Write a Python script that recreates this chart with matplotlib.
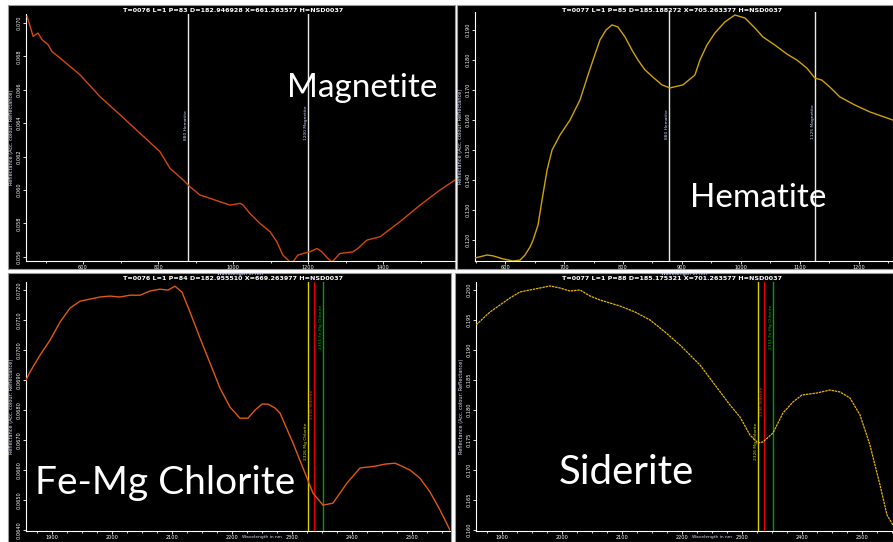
import matplotlib
matplotlib.use("Agg")
import matplotlib.pyplot as plt
from matplotlib.patches import Rectangle
from matplotlib.ticker import MultipleLocator, FormatStrFormatter
import matplotlib.transforms as mtransforms

# ---------------- data ----------------
mag_wl = [451, 467, 480, 491, 507, 517, 539, 592, 645, 699, 752, 805, 832, 867, 885, 912,
          939, 965, 992, 1019, 1027, 1045, 1072, 1099, 1117, 1133, 1152, 1160, 1173, 1187,
          1205, 1224, 1237, 1253, 1264, 1277, 1285, 1320, 1333, 1347, 1357, 1392, 1445,
          1499, 1552, 1592]
mag_r = [0.0704, 0.0692, 0.0694, 0.0690, 0.0687, 0.0683, 0.0679, 0.0669, 0.0656, 0.0645,
         0.0634, 0.0623, 0.0613, 0.0606, 0.0602, 0.0597, 0.0595, 0.0593, 0.0591, 0.0592,
         0.0591, 0.0586, 0.0580, 0.0575, 0.0569, 0.0561, 0.0557, 0.0557, 0.0561, 0.0562,
         0.0563, 0.0565, 0.0563, 0.0559, 0.0557, 0.0560, 0.0562, 0.0563, 0.0565, 0.0568,
         0.0570, 0.0572, 0.0581, 0.0591, 0.0600, 0.0606]

hem_wl = [549, 569.5, 579.7, 596.6, 613.6, 625.4, 633.9, 642.4, 647.5, 655.9, 662.7, 671.2,
          679.7, 693.2, 710.2, 727.1, 740.7, 749.2, 761.0, 771.2, 781.4, 791.5, 803.4, 815.3,
          825.4, 837.3, 850.8, 866.1, 879.7, 901.7, 922.0, 930.5, 942.4, 955.9, 972.9, 989.8,
          1006.8, 1023.7, 1037.3, 1057.6, 1078.0, 1094.9, 1111.9, 1125.4, 1137.3, 1150.8,
          1167.8, 1193.2, 1218.6, 1257.6]
hem_r = [0.1140, 0.1150, 0.1147, 0.1137, 0.1130, 0.1133, 0.1150, 0.1177, 0.1200, 0.1250,
         0.1333, 0.1433, 0.1500, 0.1550, 0.1600, 0.1667, 0.1750, 0.1800, 0.1867, 0.1900,
         0.1917, 0.1910, 0.1877, 0.1833, 0.1800, 0.1767, 0.1743, 0.1717, 0.1707, 0.1717,
         0.1750, 0.1800, 0.1850, 0.1890, 0.1927, 0.1950, 0.1940, 0.1907, 0.1877, 0.1850,
         0.1820, 0.1800, 0.1773, 0.1740, 0.1733, 0.1710, 0.1677, 0.1650, 0.1627, 0.1600]

chl_wl = [1856.7, 1863.3, 1880.0, 1896.7, 1913.3, 1930.0, 1946.7, 1963.3, 1980.0, 1996.7,
          2013.3, 2030.0, 2046.7, 2063.3, 2080.0, 2093.3, 2105.0, 2116.7, 2130.0, 2146.7,
          2163.3, 2180.0, 2196.7, 2213.3, 2226.7, 2238.3, 2250.0, 2260.0, 2271.7, 2280.0,
          2301.7, 2321.7, 2335.0, 2351.7, 2368.3, 2391.7, 2413.3, 2438.3, 2455.0, 2471.7,
          2483.3, 2496.7, 2513.3, 2530.0, 2546.7, 2563.3]
chl_r = [0.06900, 0.06927, 0.06983, 0.07033, 0.07093, 0.07140, 0.07163, 0.07170, 0.07177,
         0.07180, 0.07177, 0.07183, 0.07183, 0.07197, 0.07203, 0.07200, 0.07213, 0.07193,
         0.07127, 0.07040, 0.06957, 0.06873, 0.06810, 0.06773, 0.06773, 0.06800, 0.06820,
         0.06820, 0.06807, 0.06790, 0.06690, 0.06590, 0.06523, 0.06483, 0.06490, 0.06557,
         0.06607, 0.06613, 0.06620, 0.06623, 0.06613, 0.06600, 0.06573, 0.06527, 0.06467,
         0.06400]

sid_wl = [1856.7, 1880.0, 1896.7, 1913.3, 1930.0, 1946.7, 1963.3, 1980.0, 1996.7, 2013.3,
          2030.0, 2046.7, 2063.3, 2080.0, 2096.7, 2121.7, 2146.7, 2171.7, 2196.7, 2213.3,
          2230.0, 2255.0, 2280.0, 2296.7, 2313.3, 2326.7, 2335.0, 2351.7, 2368.3, 2385.0,
          2400.0, 2425.0, 2446.7, 2463.3, 2480.0, 2496.7, 2513.3, 2530.0, 2541.7, 2551.7]
sid_r = [0.19417, 0.19633, 0.19750, 0.19867, 0.19967, 0.20000, 0.20033, 0.20067, 0.20033,
         0.19983, 0.20000, 0.19900, 0.19833, 0.19783, 0.19733, 0.19633, 0.19500, 0.19300,
         0.19083, 0.18917, 0.18750, 0.18417, 0.18083, 0.17883, 0.17583, 0.17450, 0.17467,
         0.17617, 0.17950, 0.18133, 0.18250, 0.18283, 0.18333, 0.18300, 0.18200, 0.17917,
         0.17417, 0.16750, 0.16250, 0.16083]

vnir_markers = [880, 1200]
vnir_marker_labels = ["880 Hematite", "1200 Magnetite"]
hem_markers = [878, 1125]
hem_marker_labels = ["880 Hematite", "1125 Magnetite"]
swir_markers = [2326, 2336, 2351]
swir_marker_labels = ["2326 Mg Chlorite", "2336 Siderite", "2351 Fe-Mg Chlorite"]

titles = ["T=0076 L=1 P=83 D=182.946928 X=661.263577 H=NSD0037",
          "T=0077 L=1 P=85 D=185.188272 X=705.263377 H=NSD0037",
          "T=0076 L=1 P=84 D=182.955510 X=669.263977 H=NSD0037",
          "T=0077 L=1 P=88 D=185.175321 X=701.263577 H=NSD0037"]
names = ["Magnetite", "Hematite", "Fe-Mg Chlorite", "Siderite"]

# ---------------- figure ----------------
W, H = 893, 542
fig = plt.figure(figsize=(W / 100, H / 100), dpi=100, facecolor="white")


def frac_rect(x0, y0, x1, y1):
    return [x0 / W, 1 - y1 / H, (x1 - x0) / W, (y1 - y0) / H]


# panel backgrounds (drawn beneath the axes)
panels = [(8, 5, 455, 269), (457, 5, 893, 269), (8, 273, 451, 542), (455, 273, 893, 542)]
for (x0, y0, x1, y1) in panels:
    fig.patches.append(Rectangle((x0 / W, 1 - y1 / H), (x1 - x0) / W, (y1 - y0) / H,
                                 transform=fig.transFigure, facecolor="black",
                                 edgecolor="#9a9a9a", linewidth=0.8, zorder=-10))

small = 3.6


def style_axes(ax, xmaj, xmin, ystep, yfmt, xlabel_xy=None):
    ax.set_facecolor("none")
    ax.set_zorder(2)
    for s in ["top", "right"]:
        ax.spines[s].set_visible(False)
    for s in ["left", "bottom"]:
        ax.spines[s].set_color("white")
        ax.spines[s].set_linewidth(0.8)
    ax.xaxis.set_major_locator(MultipleLocator(xmaj))
    ax.xaxis.set_minor_locator(MultipleLocator(xmin))
    ax.yaxis.set_major_locator(MultipleLocator(ystep))
    ax.yaxis.set_major_formatter(FormatStrFormatter(yfmt))
    ax.tick_params(axis="both", which="both", colors="white", labelsize=small,
                   length=2, width=0.6, pad=1.0)
    ax.tick_params(axis="both", which="minor", length=1.5)
    for lab in ax.get_yticklabels():
        lab.set_rotation(90)
        lab.set_va("center")
    ax.set_xlabel("Wavelength in nm", color="#dde6ff",
                  fontsize=small if xlabel_xy is None else 3.2, labelpad=0.5)
    if xlabel_xy is not None:
        ax.xaxis.set_label_coords(*xlabel_xy)
    ax.set_ylabel("Reflectance (Acc. colour: Reflectance)", color="#dde6ff",
                  fontsize=small, labelpad=2)


def marker_lines(ax, xs, labels, colors, ypos, textcolors):
    trans = mtransforms.blended_transform_factory(ax.transData, ax.transAxes)
    for x, lab, c, yp, tc in zip(xs, labels, colors, ypos, textcolors):
        ax.axvline(x, color=c, linewidth=1.0, zorder=3)
        ax.text(x, yp, lab, transform=trans, rotation=90, ha="right", va="center",
                fontsize=3.2, color=tc, zorder=4)


# TL Magnetite
ax1 = fig.add_axes(frac_rect(26, 14, 455, 261))
ax1.plot(mag_wl, mag_r, color="#d4470c", linewidth=1.0, zorder=5)
ax1.set_xlim(448, 1592)
ax1.set_ylim(0.05575, 0.07054)
style_axes(ax1, 200, 100, 0.002, "%.3f")
marker_lines(ax1, vnir_markers, vnir_marker_labels, ["#e8e8e8", "#e8e8e8"],
             [0.55, 0.56], ["#c8d8ff", "#c8d8ff"])

# TR Hematite
ax2 = fig.add_axes(frac_rect(475, 12, 893, 261))
ax2.plot(hem_wl, hem_r, color="#cfa300", linewidth=1.0, zorder=5)
ax2.set_xlim(549, 1258)
ax2.set_ylim(0.113, 0.196)
style_axes(ax2, 100, 50, 0.01, "%.3f")
marker_lines(ax2, hem_markers, hem_marker_labels, ["#e8e8e8", "#e8e8e8"],
             [0.55, 0.56], ["#c8d8ff", "#c8d8ff"])

# BL Fe-Mg Chlorite
ax3 = fig.add_axes(frac_rect(26, 282, 450, 531))
ax3.plot(chl_wl, chl_r, color="#e0590f", linewidth=1.0, zorder=5)
ax3.set_xlim(1856.7, 2563.3)
ax3.set_ylim(0.06397, 0.07227)
style_axes(ax3, 100, 25, 0.001, "%.4f", xlabel_xy=(0.557, -0.018))
line_cols = ["#d6d200", "#e00000", "#00a000"]
marker_lines(ax3, swir_markers, swir_marker_labels, line_cols,
             [0.36, 0.51, 0.82], ["#d6e000", "#ff2020", "#00b000"])

# BR Siderite
ax4 = fig.add_axes(frac_rect(476, 282, 893, 531))
ax4.plot(sid_wl, sid_r, color="#e3b400", linewidth=0.9, linestyle=(0, (2.0, 0.6)),
         zorder=5)
ax4.set_xlim(1856.7, 2551.7)
ax4.set_ylim(0.15983, 0.20133)
style_axes(ax4, 100, 25, 0.005, "%.3f", xlabel_xy=(0.566, -0.018))
marker_lines(ax4, swir_markers, swir_marker_labels, line_cols,
             [0.36, 0.52, 0.82], ["#d6e000", "#ff2020", "#00b000"])

# panel titles
title_pos = [(233, 10), (672, 10), (233, 278), (672, 278)]
for t, (x, y) in zip(titles, title_pos):
    fig.text(x / W, 1 - y / H, t, ha="center", va="center", color="white",
             fontsize=4.6, fontweight="bold", zorder=5)

# big mineral names
name_pos = [(362, 88), (758, 198), (165, 483), (626, 472)]
name_sizes = [24, 24, 28, 29]
for n, (x, y), fs in zip(names, name_pos, name_sizes):
    fig.text(x / W, 1 - y / H, n, ha="center", va="center", color="white",
             fontsize=fs, family="Lato", zorder=5)

fig.savefig("out.png", dpi=100, facecolor="white")
